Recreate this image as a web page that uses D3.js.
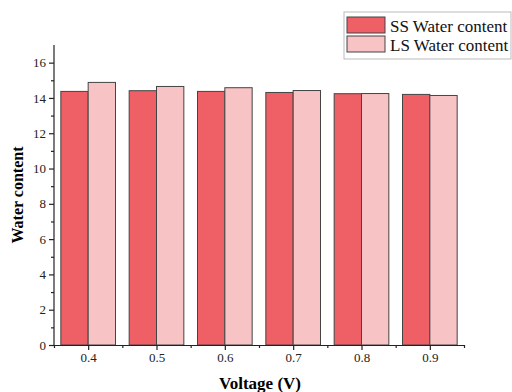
<!DOCTYPE html>
<html><head><meta charset="utf-8">
<script src="https://cdn.jsdelivr.net/npm/d3@7"></script>
<style>body{margin:0;background:#fff}svg{display:block;font-family:"Liberation Serif","Times New Roman",serif}
svg text{font-family:"Liberation Serif","Times New Roman",serif !important}</style>
</head><body><svg id="c" width="512" height="392"></svg>
<script>
const voltages = [0.4, 0.5, 0.6, 0.7, 0.8, 0.9];
const ssWater = [14.37, 14.41, 14.37, 14.31, 14.24, 14.20];
const lsWater = [14.88, 14.65, 14.58, 14.42, 14.25, 14.14];
const seriesNames = ["SS Water content", "LS Water content"];
const yTicks = [0, 2, 4, 6, 8, 10, 12, 14, 16];

const svg = d3.select("#c");
const x = d3.scaleLinear().domain([0.35, 0.95]).range([54, 464]);
const y = d3.scaleLinear().domain([0, 17]).range([345, 45]);
const colors = ["#ef5f66", "#f7c3c5"];
const half = 0.04;

const series = [ssWater, lsWater];
series.forEach((vals, si) => {
  svg.append("g").selectAll("rect").data(vals).join("rect")
    .attr("x", (d, i) => si === 0 ? x(voltages[i] - half) : x(voltages[i]))
    .attr("width", x(0.35 + half) - x(0.35))
    .attr("y", d => y(d))
    .attr("height", d => y(0) - y(d))
    .attr("fill", colors[si])
    .attr("stroke", "#444").attr("stroke-width", 1);
});

// y axis
const yAxis = svg.append("g").attr("transform", "translate(54,0)")
  .call(d3.axisLeft(y).tickValues(yTicks).tickSize(5).tickSizeOuter(0).tickFormat(d3.format("d")));
svg.append("g").attr("transform", "translate(54,0)")
  .call(d3.axisLeft(y).tickValues(d3.range(1, 17, 2)).tickSize(3).tickFormat("")).select(".domain").remove();
// x axis
svg.append("g").attr("transform", "translate(0,345)")
  .call(d3.axisBottom(x).tickValues(voltages).tickSize(5).tickSizeOuter(0).tickFormat(d3.format(".1f")));
svg.append("g").attr("transform", "translate(0,345)")
  .call(d3.axisBottom(x).tickValues([0.35,0.45,0.55,0.65,0.75,0.85,0.95]).tickSize(3).tickFormat("")).select(".domain").remove();

svg.selectAll("g").attr("font-family", "Liberation Serif");
svg.selectAll(".tick text").attr("font-size", 13).attr("fill", "#222");
svg.selectAll(".domain, .tick line").attr("stroke", "#222").attr("stroke-width", 1.2);
yAxis.select(".domain").attr("d", "M0," + y(17) + "V" + y(0));

svg.append("text").attr("transform", "translate(23,195) rotate(-90)")
  .attr("text-anchor", "middle").attr("font-weight", "bold").attr("font-size", 16).text("Water content");
svg.append("text").attr("x", 260).attr("y", 389)
  .attr("text-anchor", "middle").attr("font-weight", "bold").attr("font-size", 17).text("Voltage (V)");

// legend
const lg = svg.append("g");
lg.append("rect").attr("x", 344).attr("y", 12).attr("width", 167).attr("height", 47)
  .attr("fill", "#fff").attr("stroke", "#bbb");
seriesNames.forEach((n, i) => {
  lg.append("rect").attr("x", 347).attr("y", 17 + i * 19).attr("width", 38).attr("height", 16)
    .attr("fill", colors[i]).attr("stroke", "#444");
  lg.append("text").attr("x", 390).attr("y", 31.5 + i * 19.5).attr("font-size", 17).attr("fill", "#111").text(n);
});
</script></body></html>
